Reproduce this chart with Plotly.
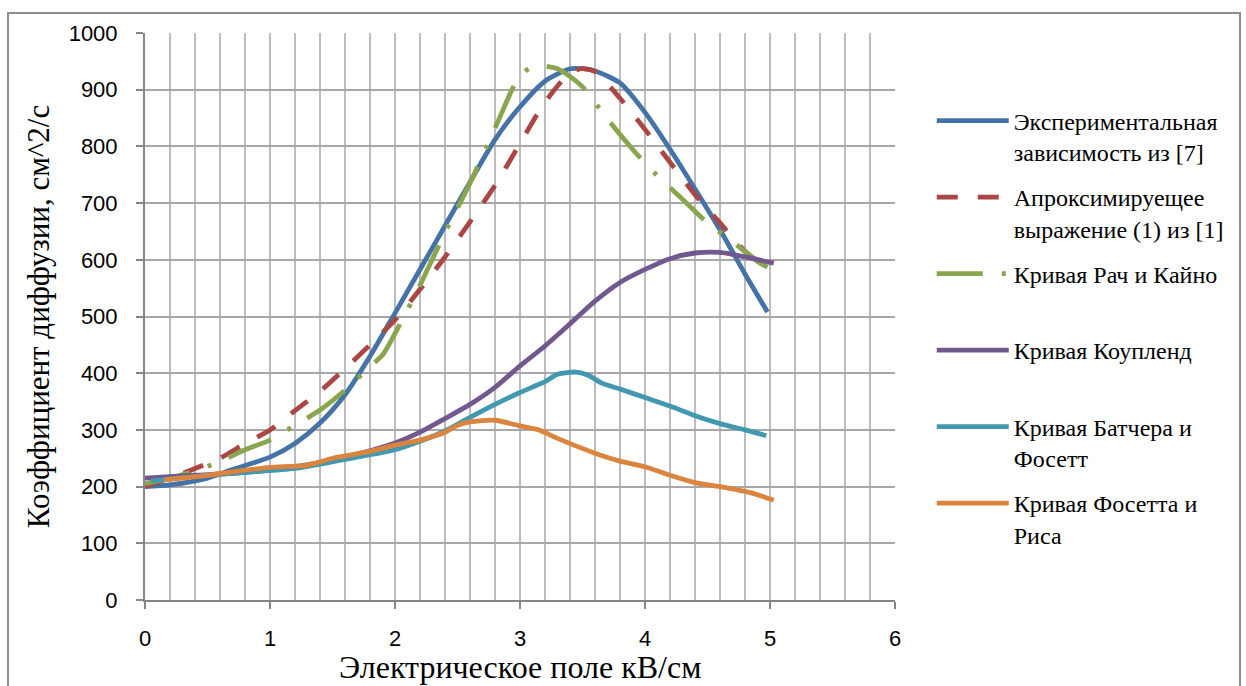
import plotly.graph_objects as go

# ---- data ----
exp_x = [0, 0.2, 0.5, 0.7, 1.0, 1.2, 1.4, 1.6, 1.8, 2.0, 2.2, 2.4, 2.6, 2.8, 3.0, 3.2, 3.4, 3.5, 3.6, 3.8, 4.0, 4.2, 4.4, 4.6, 4.8, 4.98]
exp_y = [200, 203, 215, 230, 252, 276, 312, 362, 430, 506, 583, 660, 737, 812, 870, 915, 937, 937, 933, 912, 860, 795, 725, 653, 575, 508]

apr_x = [0, 0.2, 0.4, 0.6, 0.8, 1.0, 1.2, 1.4, 1.6, 1.8, 2.0, 2.2, 2.4, 2.6, 2.8, 3.0, 3.2, 3.4, 3.5, 3.6, 3.8, 4.0, 4.2, 4.4, 4.6, 4.8, 4.98]
apr_y = [200, 215, 232, 250, 276, 300, 334, 368, 408, 450, 494, 548, 605, 667, 731, 805, 878, 930, 937, 932, 885, 830, 772, 715, 665, 615, 585]

rach_x = [0, 0.2, 0.4, 0.6, 0.8, 1.0, 1.2, 1.4, 1.6, 1.8, 1.9, 2.0, 2.1, 2.2, 2.4, 2.6, 2.8, 3.0, 3.12, 3.3, 3.5, 3.7, 3.9, 4.1, 4.3, 4.5, 4.7, 4.9, 4.98]
rach_y = [205, 215, 228, 244, 265, 282, 308, 335, 370, 412, 432, 470, 512, 555, 648, 735, 832, 925, 942, 937, 905, 848, 795, 748, 707, 665, 632, 597, 587]

cop_x = [0, 0.4, 0.8, 1.2, 1.6, 2.0, 2.2, 2.4, 2.6, 2.8, 3.0, 3.2, 3.4, 3.6, 3.8, 4.0, 4.2, 4.4, 4.6, 4.8, 5.03]
cop_y = [215, 220, 225, 235, 252, 277, 296, 320, 345, 375, 413, 448, 487, 527, 560, 583, 602, 612, 613, 605, 594]

but_x = [0.05, 0.4, 0.8, 1.2, 1.6, 2.0, 2.2, 2.4, 2.6, 2.8, 3.0, 3.2, 3.3, 3.45, 3.55, 3.65, 3.8, 4.0, 4.2, 4.4, 4.6, 4.8, 4.97]
but_y = [210, 218, 225, 232, 248, 265, 280, 298, 322, 345, 366, 385, 398, 402, 396, 383, 372, 357, 342, 325, 311, 300, 290]

fr_x = [0.15, 0.5, 0.8, 1.0, 1.3, 1.5, 1.8, 2.0, 2.2, 2.4, 2.5, 2.6, 2.8, 3.0, 3.15, 3.3, 3.6, 3.8, 4.0, 4.2, 4.4, 4.6, 4.85, 5.03]
fr_y = [212, 220, 229, 234, 238, 250, 262, 273, 282, 296, 308, 314, 317, 307, 300, 285, 259, 245, 235, 220, 207, 200, 189, 176]

names = [
    "Экспериментальная<br>зависимость из [7]",
    "Апроксимируещее<br>выражение (1) из [1]",
    "Кривая Рач и Кайно<br> ",
    "Кривая Коупленд<br> ",
    "Кривая Батчера и<br>Фосетт",
    "Кривая Фосетта и<br>Риса",
]
colors = ["#4572a7", "#aa4643", "#89a54e", "#71588f", "#4198af", "#db843d"]
dashes = ["solid", "21px,20px", "46px,19px,4px,19px", "solid", "solid", "solid"]

x_title = "Электрическое поле кВ/см"
y_title = "Коэффициент диффузии, см^2/с"

series = [(exp_x, exp_y), (apr_x, apr_y), (rach_x, rach_y), (cop_x, cop_y), (but_x, but_y), (fr_x, fr_y)]

SERIF = "Liberation Serif, Times New Roman, serif"
SANS = "Liberation Sans, Arial, sans-serif"

fig = go.Figure()
for i, ((xs, ys), nm, c, d) in enumerate(zip(series, names, colors, dashes)):
    fig.add_trace(go.Scatter(
        x=xs, y=ys, name=nm, mode="lines", legendgroup=f"g{i}",
        line=dict(color=c, width=4.8, dash=d, shape="spline", smoothing=0.7),
    ))

axis_gray = "#868686"
fig.update_layout(
    width=1246, height=686,
    margin=dict(l=145, r=351, t=33, b=86),
    paper_bgcolor="white", plot_bgcolor="white",
    showlegend=True,
    legend=dict(
        x=1.049, y=0.8845, xanchor="left", yanchor="top",
        font=dict(family=SERIF, size=24, color="black"),
        tracegroupgap=11.1, valign="top", itemwidth=72,
        bgcolor="rgba(0,0,0,0)",
    ),
    xaxis=dict(
        range=[0, 6], dtick=1, tick0=0,
        showgrid=True, gridcolor="#bcbcbc", gridwidth=2,
        minor=dict(dtick=0.2, showgrid=True, gridcolor="#bcbcbc", gridwidth=2),
        showline=True, linecolor=axis_gray, linewidth=2,
        ticks="outside", ticklen=7, tickcolor=axis_gray, tickwidth=2,
        ticklabelstandoff=11,
        tickfont=dict(family=SANS, size=22, color="black"),
        zeroline=False,
    ),
    yaxis=dict(
        range=[0, 1000], dtick=100,
        showgrid=True, gridcolor="#a8a8a8", gridwidth=2,
        showline=True, linecolor=axis_gray, linewidth=2,
        ticks="outside", ticklen=7, tickcolor=axis_gray, tickwidth=2,
        ticklabelstandoff=14,
        tickfont=dict(family=SANS, size=22, color="black"),
        title=dict(text=y_title, standoff=10,
                   font=dict(family=SERIF, size=31, color="black")),
        zeroline=False,
    ),
)

fig.add_annotation(text=x_title, xref="paper", yref="paper",
                   x=0.5, y=(600 - 686) / 567, xanchor="center", yanchor="bottom",
                   showarrow=False, borderpad=0,
                   font=dict(family=SERIF, size=32, color="black"))

# outer chart border
fig.add_shape(type="rect", xref="paper", yref="paper",
              x0=(8 - 145) / 750, x1=(1240 - 145) / 750,
              y0=(600 - 700) / 567, y1=(600 - 13) / 567,
              line=dict(color="#8c8c8c", width=2), layer="below")

fig.write_html("out.html")
